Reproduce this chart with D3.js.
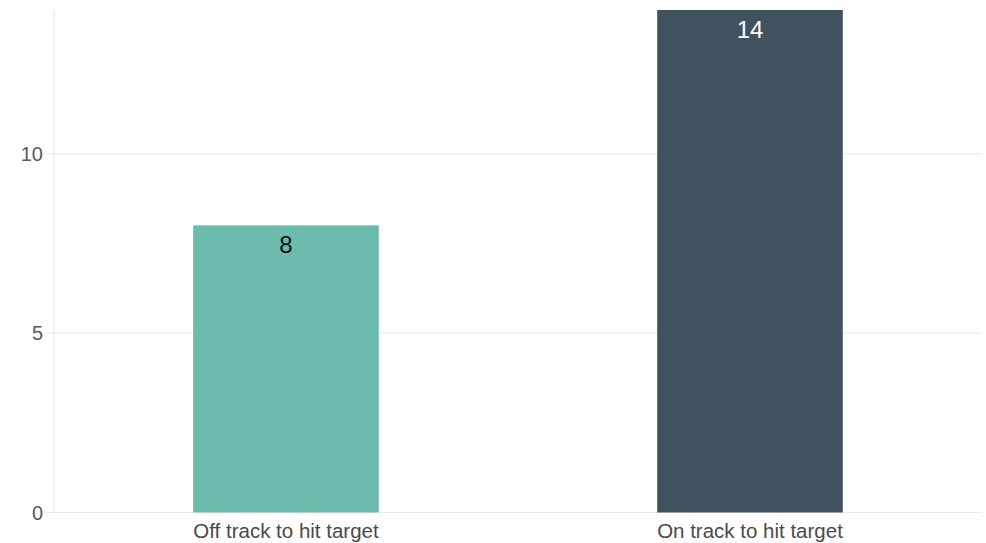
<!DOCTYPE html>
<html>
<head>
<meta charset="utf-8">
<script src="https://cdn.jsdelivr.net/npm/d3@7"></script>
<style>
  html, body { margin: 0; padding: 0; background: #fff; }
  svg { display: block; font-family: "Liberation Sans", Arial, Helvetica, sans-serif; }
</style>
</head>
<body>
<svg id="chart" width="986" height="543"></svg>
<script>
const categories = ["Off track to hit target", "On track to hit target"];
const values = [8, 14];
const colors = ["#6cbcad", "#41525f"];
const labelColors = ["#111111", "#ffffff"];
const yTicks = [0, 5, 10];

const svg = d3.select("#chart");
const margin = { top: 10, right: 4, bottom: 30, left: 54 };
const W = 986, H = 543;
const x0 = margin.left, x1 = W - margin.right;
const y0 = H - margin.bottom - 0.5, y1 = margin.top;

const x = d3.scaleBand().domain(categories).range([x0, x1])
  .paddingInner(0.6).paddingOuter(0.3);
const y = d3.scaleLinear().domain([0, 14]).range([y0, y1]);

// gridlines
svg.append("g").selectAll("line").data(yTicks).join("line")
  .attr("x1", x0 - 7).attr("x2", x1)
  .attr("y1", d => y(d)).attr("y2", d => y(d))
  .attr("stroke", "#ebebeb").attr("stroke-width", 1.2);

// left axis line
svg.append("line")
  .attr("x1", x0).attr("x2", x0).attr("y1", y1).attr("y2", y0)
  .attr("stroke", "#ebebeb").attr("stroke-width", 1.2);

// y tick labels
svg.append("g").selectAll("text").data(yTicks).join("text")
  .attr("x", x0 - 11).attr("y", d => y(d)).attr("dy", "0.36em")
  .attr("text-anchor", "end").attr("font-size", 20).attr("fill", "#5a5a5a")
  .text(d => d);

// bars
svg.append("g").selectAll("rect").data(values).join("rect")
  .attr("x", (d, i) => x(categories[i])).attr("width", x.bandwidth())
  .attr("y", d => y(d)).attr("height", d => y(0) - y(d))
  .attr("fill", (d, i) => colors[i]);

// value labels
svg.append("g").selectAll("text").data(values).join("text")
  .attr("x", (d, i) => x(categories[i]) + x.bandwidth() / 2)
  .attr("y", d => y(d) + 28)
  .attr("text-anchor", "middle").attr("font-size", 24)
  .attr("fill", (d, i) => labelColors[i])
  .text(d => d);

// category labels
svg.append("g").selectAll("text").data(categories).join("text")
  .attr("x", d => x(d) + x.bandwidth() / 2)
  .attr("y", y0 + 25)
  .attr("text-anchor", "middle").attr("font-size", 20.5).attr("fill", "#4a4a4a")
  .text(d => d);
</script>
</body>
</html>
